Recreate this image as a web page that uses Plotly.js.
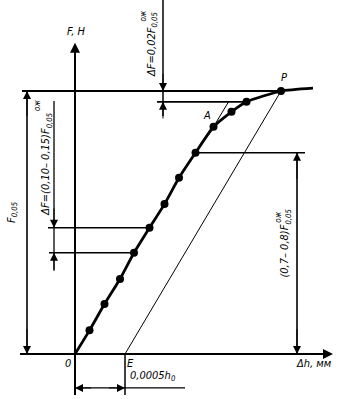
<!DOCTYPE html>
<html><head><meta charset="utf-8">
<script src="https://cdn.plot.ly/plotly-3.0.1.min.js"></script>
<style>html,body{margin:0;padding:0;background:#fff}#c{width:340px;height:399px}</style>
</head><body><div id="c"></div>
<script>
// Curve data: deformation Δh (in units of 0.0005h0) vs force F (in units of F0,05)
const dh = [0, 0.29, 0.59, 0.90, 1.18, 1.49, 1.79, 2.08, 2.41, 2.77, 3.13, 3.43, 4.12, 4.76];
const F  = [0, 0.09, 0.19, 0.285, 0.385, 0.48, 0.57, 0.67, 0.765, 0.864, 0.921, 0.959, 1.0, 1.011];
const markIdx = [1,2,3,4,5,6,7,8,9,10,11,12];
const E = 1;            // offset 0,0005h0
const F005 = 1;         // F0,05 level
const idxA = 9, idxP = 12, idxUpper = 11, idxLow1 = 4, idxLow2 = 5, idxRight = 8;
const tangentEnd = [3.08, 0.962];
const labels = {
  axisY: 'F, Н', axisX: 'Δh, мм', origin: '0', E: 'E', P: 'P', A: 'A',
  offset: '0,0005h<sub>0</sub>',
  dF1: 'ΔF=0,02F<sub>0,05</sub>', dF2: 'ΔF=(0,10– 0,15)F<sub>0,05</sub>',
  F005: 'F<sub>0,05</sub>', right: '(0,7– 0,8)F<sub>0,05</sub>', sup: 'ож'
};

const FONT = "DejaVu Sans Condensed, Liberation Sans Narrow, DejaVu Sans, sans-serif";
const K = '#000';
const traces = [];
function seg(xs, ys, w){ traces.push({x:xs,y:ys,mode:'lines',line:{color:K,width:w},hoverinfo:'skip',showlegend:false,cliponaxis:false}); }

// axes
seg([-1.1, 5.0], [0,0], 2);
seg([0,0], [-0.156, 1.15], 2);
// extension/level lines
seg([-1.06, dh[idxP]], [F005, F005], 1.8);
seg([1.64, dh[idxUpper]], [F[idxUpper], F[idxUpper]], 1.8);
seg([-0.54, dh[idxLow2]], [F[idxLow2], F[idxLow2]], 1.3);
seg([-0.52, dh[idxLow1]], [F[idxLow1], F[idxLow1]], 1.3);
seg([dh[idxRight], 4.6], [F[idxRight], F[idxRight]], 1.6);
// dimension verticals
seg([1.76,1.76], [1.346, 0.905], 1.5);
seg([-0.42,-0.42], [0.962, 0.32], 1.3);
seg([-0.96,-0.96], [0, F005], 1.6);
seg([4.44,4.44], [0, F[idxRight]], 1.6);
// bottom
seg([E,E], [0,-0.156], 1.5);
seg([0, 2.2], [-0.129,-0.129], 1.3);
// E-P line and tangent at A
seg([E, dh[idxP]], [0, F[idxP]], 1);
seg([dh[idxA]-0.1, tangentEnd[0]], [F[idxA]-0.0317, tangentEnd[1]], 1);
// curve
traces.push({x:dh,y:F,mode:'lines',line:{color:K,width:2.8,shape:'spline',smoothing:0.5},hoverinfo:'skip',showlegend:false});
traces.push({x:markIdx.map(i=>dh[i]),y:markIdx.map(i=>F[i]),mode:'markers',marker:{color:K,size:8},hoverinfo:'skip',showlegend:false});

const ann = [];
function arrow(x,y,ax,ay,w){ ann.push({x:x,y:y,ax:ax,ay:ay,xref:'x',yref:'y',axref:'x',ayref:'y',text:'',showarrow:true,arrowhead:2,arrowsize:w>1.5?1:1.6,arrowwidth:w,arrowcolor:K,standoff:0}); }
// axis arrows
arrow(5.16, 0, 4.9, 0, 2);
arrow(0, 1.183, 0, 1.1, 2);
// dimension arrows
arrow(1.76, F005, 1.76, 1.07, 1);
arrow(1.76, F[idxUpper], 1.76, 0.89, 1);
arrow(-0.42, F[idxLow2], -0.42, 0.56, 1);
arrow(-0.42, F[idxLow1], -0.42, 0.31, 1);
arrow(-0.96, F005, -0.96, 0.9, 1);
arrow(-0.96, 0, -0.96, 0.1, 1);
arrow(4.44, F[idxRight], 4.44, 0.66, 1);
arrow(4.44, 0, 4.44, 0.1, 1);
arrow(0, -0.129, 0.35, -0.129, 1);
arrow(E, -0.129, 0.65, -0.129, 1);

function txt(t,x,y,opt){ ann.push(Object.assign({x:x,y:y,xref:'x',yref:'y',text:'<i>'+t+'</i>',showarrow:false,font:{family:FONT,size:11,color:K}},opt||{})); }
txt(labels.axisY, 0.03, 1.225);
txt(labels.P, 4.18, 1.05);
txt(labels.A, 2.64, 0.905);
txt(labels.origin, -0.14, -0.035);
txt(labels.E, 1.1, -0.035);
txt(labels.offset, 1.05, -0.082, {xanchor:'left'});
txt(labels.axisX, 4.78, -0.035);
txt(labels.dF1, 1.54, 1.175, {textangle:-90});
txt(labels.sup, 1.37, 1.285, {textangle:-90, font:{family:FONT,size:8,color:K}});
txt(labels.dF2, -0.58, 0.72, {textangle:-90});
txt(labels.sup, -0.75, 0.945, {textangle:-90, font:{family:FONT,size:8,color:K}});
txt(labels.F005, -1.26, 0.54, {textangle:-90});
txt(labels.right, 4.2, 0.42, {textangle:-90});
txt(labels.sup, 4.07, 0.52, {textangle:-90, font:{family:FONT,size:8,color:K}});

const layout = {
  width:340, height:399, margin:{l:0,r:0,t:0,b:0},
  paper_bgcolor:'#fff', plot_bgcolor:'#fff', showlegend:false,
  xaxis:{range:[-1.5,5.3], visible:false, fixedrange:true},
  yaxis:{range:[-0.171,1.346], visible:false, fixedrange:true},
  annotations: ann
};
Plotly.newPlot('c', traces, layout, {staticPlot:true, displayModeBar:false});
</script></body></html>
